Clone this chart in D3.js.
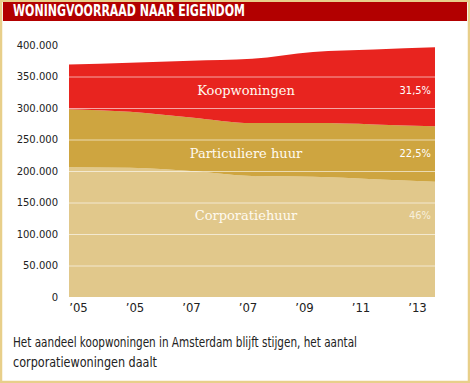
<!DOCTYPE html>
<html><head><meta charset="utf-8">
<script src="https://cdn.jsdelivr.net/npm/d3@7"></script>
<style>
html,body{margin:0;padding:0;background:#fff;}
svg{display:block;}
</style></head>
<body>
<svg id="chart" width="470" height="383"></svg>
<script>
// ---- data ----
const title = "WONINGVOORRAAD NAAR EIGENDOM";
const caption = ["Het aandeel koopwoningen in Amsterdam blijft stijgen, het aantal", "corporatiewoningen daalt"];
const xLabels = ["\u201905", "\u201905", "\u201907", "\u201907", "\u201909", "\u201911", "\u201913"];
const corporatie = [206000, 205000, 200000, 192000, 191000, 187000, 183000];
const particulier = [92000, 89000, 85000, 84000, 85000, 87000, 88000];
const koop = [71000, 78000, 90000, 102000, 113000, 119000, 125500];
const seriesNames = ["Corporatiehuur", "Particuliere huur", "Koopwoningen"];
const seriesPct = ["46%", "22,5%", "31,5%"];
const yTicks = [0, 50000, 100000, 150000, 200000, 250000, 300000, 350000, 400000];

(function () {
const colors = ["#e1c88b", "#cea540", "#e8241f"];

const svg = d3.select("#chart");
const W = 470, H = 383;

// frame
svg.append("rect").attr("x", 1).attr("y", 1).attr("width", W - 2).attr("height", H - 2)
  .attr("fill", "#fff").attr("stroke", "#e8cf8a").attr("stroke-width", 2.5);
svg.append("rect").attr("x", 3).attr("y", 2).attr("width", W - 6).attr("height", 19).attr("fill", "#b20000");
svg.append("text").attr("x", 13).attr("y", 16).text(title)
  .attr("fill", "#fff").attr("font-family", "'Liberation Sans Narrow','DejaVu Sans Condensed',sans-serif")
  .attr("font-weight", "bold").attr("font-size", 15)
  .attr("textLength", 232).attr("lengthAdjust", "spacingAndGlyphs");

const pL = 69, pR = 435, pT = 45, pB = 297;
const idx = d3.range(xLabels.length);
const x = d3.scalePoint().domain(idx).range([pL, pR]);
const xL = d3.scalePoint().domain(idx).range([78, 417]);
const y = d3.scaleLinear().domain([0, 400000]).range([pB, pT]);

const table = idx.map(i => ({i, c: corporatie[i], p: particulier[i], k: koop[i]}));
const stack = d3.stack().keys(["c", "p", "k"])(table);

const area = d3.area()
  .x(d => x(d.data.i)).y0(d => y(d[0])).y1(d => y(d[1]))
  .curve(d3.curveMonotoneX);

svg.append("g").selectAll("path").data(stack).join("path")
  .attr("d", area).attr("fill", (d, i) => colors[i]);

// gridlines
svg.append("g").selectAll("line").data(yTicks.filter(t => t > 0 && t < 400000)).join("line")
  .attr("x1", pL).attr("x2", pR).attr("y1", d => y(d) + 0.5).attr("y2", d => y(d) + 0.5)
  .attr("stroke", "#fff").attr("stroke-opacity", 0.6).attr("stroke-width", 1);

// y axis
const loc = d3.formatLocale({decimal: ",", thousands: ".", grouping: [3], currency: ["€", ""]});
const fmt = loc.format(",d");
const yAxis = svg.append("g").attr("transform", `translate(${pL},0)`)
  .call(d3.axisLeft(y).tickValues(yTicks).tickFormat(fmt).tickSize(0).tickPadding(11));
yAxis.select(".domain").remove();
yAxis.selectAll("text").attr("font-family", "'DejaVu Sans',sans-serif").attr("font-size", 10).attr("fill", "#222");

// x axis
const xAxis = svg.append("g").attr("transform", `translate(0,${pB})`)
  .call(d3.axisBottom(xL).tickFormat(i => xLabels[i]).tickSize(0).tickPadding(6));
xAxis.select(".domain").remove();
xAxis.selectAll("text").attr("font-family", "'Liberation Sans Narrow','DejaVu Sans Condensed',sans-serif")
  .attr("font-size", 13).attr("fill", "#222");

// series labels
const labelY = [220, 158, 95];
const g = svg.append("g");
seriesNames.forEach((n, i) => {
  g.append("text").attr("x", 246).attr("y", labelY[i]).attr("text-anchor", "middle").text(n)
    .attr("font-family", "'DejaVu Serif',serif").attr("font-size", 13).attr("fill", "#fffaf0");
  g.append("text").attr("x", 431).attr("y", labelY[i] - 1).attr("text-anchor", "end").text(seriesPct[i])
    .attr("font-family", "'Liberation Sans Narrow','DejaVu Sans Condensed',sans-serif").attr("font-size", 11)
    .attr("fill", i === 0 ? "#f7efdc" : "#fff");
});

// caption
caption.forEach((c, i) => {
  svg.append("text").attr("x", 13).attr("y", 347 + i * 20).text(c)
    .attr("font-family", "'Liberation Sans Narrow','DejaVu Sans Condensed',sans-serif")
    .attr("font-size", 14.5).attr("fill", "#222")
    .attr("textLength", i === 0 ? 344 : 144).attr("lengthAdjust", "spacingAndGlyphs");
});
})();
</script>
</body></html>
